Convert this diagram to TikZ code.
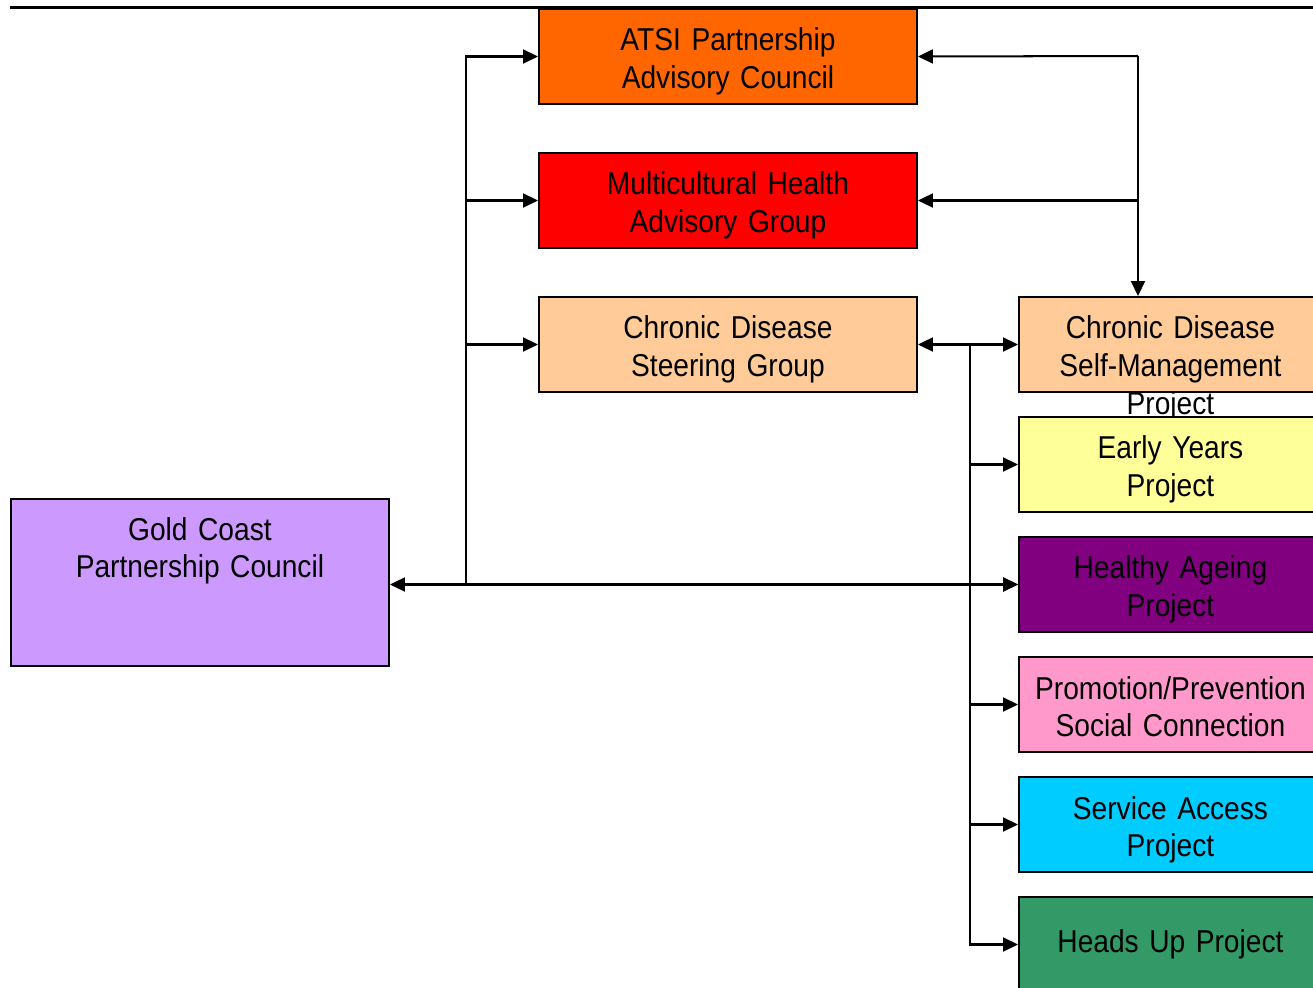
\documentclass[tikz,border=0pt]{standalone}
\usepackage{fontspec}
\setmainfont[FakeStretch=0.89]{Liberation Sans}
\usetikzlibrary{arrows.meta}

\definecolor{atsiorange}{HTML}{FF6600}
\definecolor{multired}{HTML}{FF0000}
\definecolor{peach}{HTML}{FFCC99}
\definecolor{lavender}{HTML}{CC99FF}
\definecolor{paleyellow}{HTML}{FFFF99}
\definecolor{plum}{HTML}{800080}
\definecolor{pink}{HTML}{FF99CC}
\definecolor{skyblue}{HTML}{00CCFF}
\definecolor{seagreen}{HTML}{339966}

\newcommand{\boxfont}{\fontsize{18}{21.6}\selectfont\spaceskip 0.19em plus 0.05em\relax}

\begin{document}
\begin{tikzpicture}[x=0.02cm, y=-0.02cm,
    box/.style={draw, line width=0.04cm, inner sep=0pt, align=center,
                anchor=north west, text width=7.56cm,
                text height=0.84cm, text depth=1.06cm, font=\boxfont},
    proj/.style={box, text width=6.06cm},
    link/.style={line width=1.15pt},
    arr/.style={link, -{Triangle[length=0.3cm, width=0.28cm]}},
    biarr/.style={link, {Triangle[length=0.3cm, width=0.28cm]}-{Triangle[length=0.3cm, width=0.28cm]}}]
    \useasboundingbox (0,0) rectangle (1313,988);
    \clip (0,0) rectangle (1313,988);

    % Rule at the top
    \draw[line width=0.06cm] (10,7) -- (1313,7);

    % Councils and groups
    \node[box, fill=atsiorange] (atsi) at (538,8)   {ATSI Partnership\\Advisory Council};
    \node[box, fill=multired]   (mhag) at (538,152) {Multicultural Health\\Advisory Group};
    \node[box, fill=peach]      (cdsg) at (538,296) {Chronic Disease\\Steering Group};
    \node[box, fill=lavender, text height=0.82cm, text depth=2.52cm]
                                (gold) at (10,498)  {Gold Coast\\Partnership Council};

    % Projects
    \node[proj, fill=peach]      (cdsm)    at (1018,296) {Chronic Disease\\Self-Management\\Project};
    \node[proj, fill=paleyellow] (early)   at (1018,416) {Early Years\\Project};
    \node[proj, fill=plum]       (healthy) at (1018,536) {Healthy Ageing\\Project};
    \node[proj, fill=pink]       (promo)   at (1018,656) {Promotion/Prevention\\Social Connection};
    \node[proj, fill=skyblue]    (access)  at (1018,776) {Service Access\\Project};
    \node[proj, fill=seagreen, text height=1.1cm, text depth=0.8cm]
                                 (headsup) at (1018,896) {Heads Up Project};

    \coordinate (trunkL) at (466,584);
    \coordinate (bendR)  at (1138,56);
    \coordinate (trunkP) at (970,344);

    % Main line
    \draw[biarr] (gold.east |- healthy.west) -- (healthy.west);

    % Left trunk
    \foreach \g in {atsi, mhag, cdsg}
        \draw[arr] (trunkL) |- (\g.west);

    % Right trunk
    \draw[arr] (bendR) -- (atsi.east);
    \draw[arr] (bendR |- mhag.east) -- (mhag.east);
    \draw[arr] (bendR) -- (bendR |- cdsm.north);

    % Steering group to projects
    \draw[biarr] (cdsg.east) -- (cdsm.west);
    \foreach \p in {early, healthy, promo, access, headsup}
        \draw[arr] (trunkP) |- (\p.west);
\end{tikzpicture}
\end{document}
